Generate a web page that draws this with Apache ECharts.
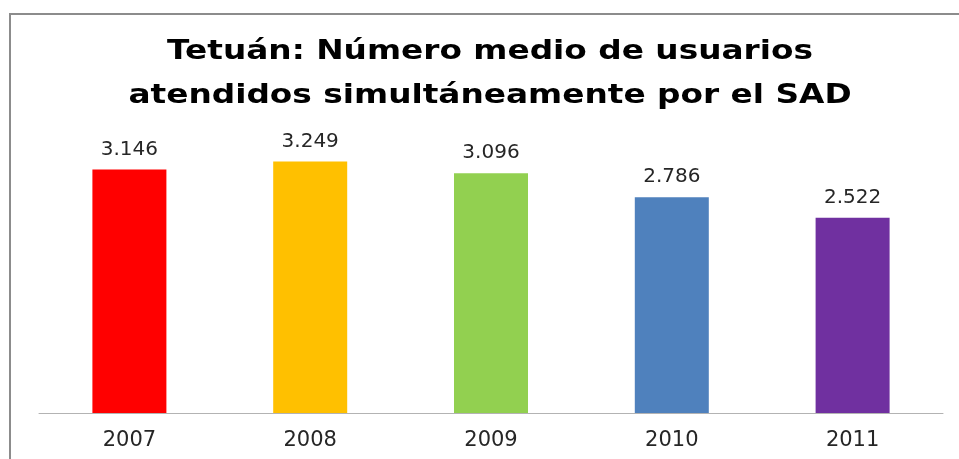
<!DOCTYPE html>
<html>
<head>
<meta charset="utf-8">
<title>Tetuán: Número medio de usuarios atendidos simultáneamente por el SAD</title>
<script src="https://cdn.jsdelivr.net/npm/echarts@6/dist/echarts.min.js"></script>
<style>
  html, body { margin: 0; padding: 0; background: #ffffff; }
  #chart { width: 959px; height: 459px; }
</style>
</head>
<body>
<div id="chart"></div>
<script>
// Years shown on the category axis
const years = ['2007', '2008', '2009', '2010', '2011'];
// Average number of users served simultaneously
const users = [3146, 3249, 3096, 2786, 2522];
// One fill per year
const barColors = ['#FF0000', '#FFC000', '#92D050', '#4F81BD', '#7030A0'];
// Title lines
const titleLines = ['Tetuán: Número medio de usuarios', 'atendidos simultáneamente por el SAD'];

// Spanish-style thousands separator: 3146 -> "3.146"
function fmt(v) {
  return String(v).replace(/\B(?=(\d{3})+(?!\d))/g, '.');
}

const chart = echarts.init(document.getElementById('chart'), null, { renderer: 'canvas' });

const titleFont = 'bold 26px "DejaVu Sans"';

chart.setOption({
  animation: false,
  backgroundColor: '#ffffff',
  grid: { left: 39, right: 16, top: 142, bottom: 46 },
  xAxis: {
    type: 'category',
    data: years,
    axisLine: { show: true, lineStyle: { color: '#b3b3b3', width: 1 } },
    axisTick: { show: false },
    axisLabel: {
      margin: 17,
      color: '#262626',
      fontFamily: 'DejaVu Sans',
      fontSize: 21
    }
  },
  yAxis: {
    type: 'value',
    min: 0,
    max: 3500,
    show: false,
    splitLine: { show: false }
  },
  series: [{
    type: 'bar',
    barWidth: 74,
    data: users.map((v, i) => ({ value: v, itemStyle: { color: barColors[i] } })),
    label: {
      show: true,
      position: 'top',
      distance: 10,
      color: '#262626',
      fontFamily: 'DejaVu Sans',
      fontSize: 20,
      lineHeight: 20,
      formatter: p => fmt(p.value)
    }
  }],
  graphic: [
    {
      type: 'rect',
      silent: true,
      shape: { x: 10, y: 14, width: 960, height: 460 },
      style: { fill: 'none', stroke: '#8c8c8c', lineWidth: 2 }
    },
    {
      type: 'text',
      x: 490, y: 52,
      scaleX: 1.26,
      style: {
        text: titleLines[0],
        font: titleFont,
        fill: '#000000',
        textAlign: 'center',
        textVerticalAlign: 'middle'
      }
    },
    {
      type: 'text',
      x: 490, y: 96,
      scaleX: 1.26,
      style: {
        text: titleLines[1],
        font: titleFont,
        fill: '#000000',
        textAlign: 'center',
        textVerticalAlign: 'middle'
      }
    }
  ]
});
</script>
</body>
</html>
